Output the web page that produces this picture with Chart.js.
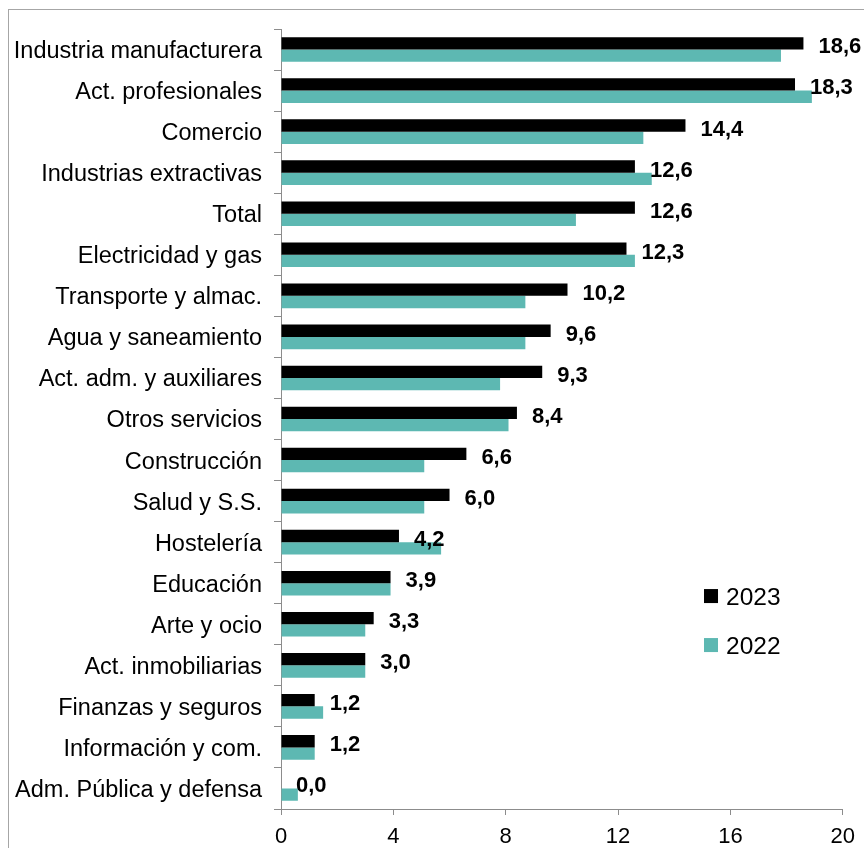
<!DOCTYPE html>
<html>
<head>
<meta charset="utf-8">
<script src="https://cdn.jsdelivr.net/npm/chart.js@4.4.1/dist/chart.umd.min.js"></script>
<style>
  html, body { margin: 0; padding: 0; background: #fff; }
  #chart { display: block; }
</style>
</head>
<body>
<canvas id="chart" width="864" height="848"></canvas>
<script>
// Sectors, top to bottom
const categories = [
  "Industria manufacturera", "Act. profesionales", "Comercio", "Industrias extractivas",
  "Total", "Electricidad y gas", "Transporte y almac.", "Agua y saneamiento",
  "Act. adm. y auxiliares", "Otros servicios", "Construcción", "Salud y S.S.",
  "Hostelería", "Educación", "Arte y ocio", "Act. inmobiliarias",
  "Finanzas y seguros", "Información y com.", "Adm. Pública y defensa"
];

const seriesNames = ["2023", "2022"];

const values2023 = [18.6, 18.3, 14.4, 12.6, 12.6, 12.3, 10.2, 9.6, 9.3, 8.4, 6.6, 6.0, 4.2, 3.9, 3.3, 3.0, 1.2, 1.2, 0.0];
const values2022 = [17.8, 18.9, 12.9, 13.2, 10.5, 12.6, 8.7, 8.7, 7.8, 8.1, 5.1, 5.1, 5.7, 3.9, 3.0, 3.0, 1.5, 1.2, 0.6];

const xTicks = [0, 4, 8, 12, 16, 20];

const FONT = "'Liberation Sans', Arial, sans-serif";
const AXIS_GREY = "#8c8c8c";
const COLORS = ["#000000", "#5db8b2"];

// Outer frame around the chart
const framePlugin = {
  id: "frame",
  beforeDraw(chart) {
    const ctx = chart.ctx;
    ctx.save();
    ctx.strokeStyle = "#a6a6a6";
    ctx.lineWidth = 1;
    ctx.strokeRect(8.5, 9.5, chart.width + 20, chart.height + 20);
    ctx.restore();
  }
};

// Value labels for the 2023 series, placed just past the end of each black bar
const valueLabelPlugin = {
  id: "valueLabels",
  afterDatasetsDraw(chart) {
    const ctx = chart.ctx;
    const meta = chart.getDatasetMeta(0);
    ctx.save();
    ctx.font = "bold 22px " + FONT;
    ctx.fillStyle = "#000";
    ctx.textAlign = "left";
    ctx.textBaseline = "middle";
    meta.data.forEach((bar, i) => {
      const v = chart.data.datasets[0].data[i];
      const txt = v.toFixed(1).replace(".", ",");
      ctx.fillText(txt, bar.x + 15, bar.y + 4);
    });
    ctx.restore();
  }
};

// Legend inside the plot area, lower right
const legendPlugin = {
  id: "insideLegend",
  afterDraw(chart) {
    const ctx = chart.ctx;
    const a = chart.chartArea;
    const x0 = a.left + (a.right - a.left) * 0.753;
    let y = a.top + (a.bottom - a.top) * 0.727;
    ctx.save();
    ctx.font = "24.5px " + FONT;
    ctx.textAlign = "left";
    ctx.textBaseline = "middle";
    chart.data.datasets.forEach(ds => {
      ctx.fillStyle = ds.backgroundColor;
      ctx.fillRect(x0, y - 7, 14, 14);
      ctx.fillStyle = "#000";
      ctx.fillText(ds.label, x0 + 22, y + 2);
      y += 49;
    });
    ctx.restore();
  }
};

new Chart(document.getElementById("chart"), {
  type: "bar",
  data: {
    labels: categories,
    datasets: [
      { label: seriesNames[0], data: values2023, backgroundColor: COLORS[0] },
      { label: seriesNames[1], data: values2022, backgroundColor: COLORS[1] }
    ]
  },
  options: {
    indexAxis: "y",
    responsive: false,
    animation: false,
    devicePixelRatio: 1,
    layout: { padding: { left: 0, right: 21, top: 29, bottom: 0 } },
    datasets: { bar: { categoryPercentage: 0.6, barPercentage: 1.0 } },
    plugins: {
      legend: { display: false },
      tooltip: { enabled: false }
    },
    scales: {
      y: {
        grid: { offset: true, drawOnChartArea: false, drawTicks: true, tickLength: 7, color: AXIS_GREY },
        border: { color: AXIS_GREY, width: 1 },
        ticks: { color: "#000", font: { family: FONT, size: 23.5 }, padding: 12, labelOffset: 2, autoSkip: false },
        afterFit(scale) { scale.width = 281; }
      },
      x: {
        min: xTicks[0],
        max: xTicks[xTicks.length - 1],
        afterBuildTicks(scale) { scale.ticks = xTicks.map(v => ({ value: v })); },
        grid: { drawOnChartArea: false, drawTicks: true, tickLength: 6, color: AXIS_GREY },
        border: { color: AXIS_GREY, width: 1 },
        ticks: { color: "#000", font: { family: FONT, size: 22 }, padding: 9, maxRotation: 0 },
        afterFit(scale) { scale.height = 39; }
      }
    }
  },
  plugins: [framePlugin, valueLabelPlugin, legendPlugin]
});
</script>
</body>
</html>
